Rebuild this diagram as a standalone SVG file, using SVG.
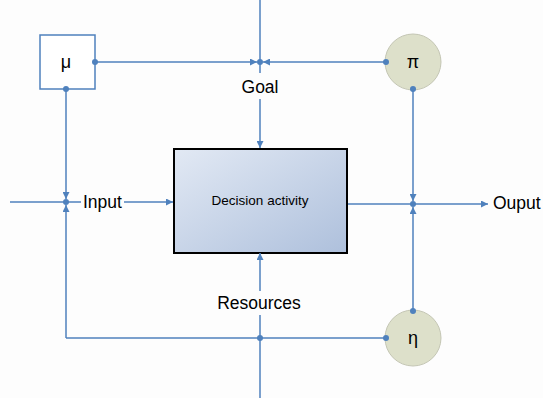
<svg xmlns="http://www.w3.org/2000/svg" width="543" height="398" viewBox="0 0 543 398">
  <style>
    .ln { fill: none; stroke: #4f81bd; stroke-width: 1.5; }
    .arr { marker-end: url(#ah); }
    .dot { fill: #4f81bd; }
    .lbl { font-family: "Liberation Sans", Arial, sans-serif; font-size: 17.5px; fill: #000; }
    .sym { font-family: "Liberation Sans", Arial, sans-serif; font-size: 18px; fill: #000; text-anchor: middle; }
    .circ { fill: #dde0ca; stroke: #c4c6b4; stroke-width: 1; }
  </style>
  <defs>
    <marker id="ah" viewBox="0 0 10 10" refX="10" refY="5" markerWidth="7" markerHeight="7" markerUnits="userSpaceOnUse" orient="auto">
      <path d="M0,0 L10,5 L0,10 z" fill="#4f81bd"/>
    </marker>
    <linearGradient id="boxfill" x1="0" y1="0" x2="1" y2="1">
      <stop offset="0" stop-color="#e2e9f4"/>
      <stop offset="1" stop-color="#aec0dc"/>
    </linearGradient>
  </defs>
  <rect width="543" height="398" fill="#fdfdfd"/>

  <g id="mu">
    <rect x="40" y="35" width="55" height="54" fill="#fff" stroke="#4f81bd" stroke-width="1.5"/>
    <text class="sym" x="66" y="68">μ</text>
  </g>

  <g id="pi">
    <circle class="circ" cx="413" cy="62" r="28"/>
    <text class="sym" x="413" y="68">π</text>
  </g>

  <g id="eta">
    <circle class="circ" cx="413" cy="338" r="28"/>
    <text class="sym" x="413" y="344">η</text>
  </g>

  <g id="decision">
    <rect x="174" y="149" width="173" height="104" fill="url(#boxfill)" stroke="#000" stroke-width="2"/>
    <text x="260" y="205" font-family="Liberation Sans, Arial, sans-serif" font-size="13.5" text-anchor="middle">Decision activity</text>
  </g>

  <g id="connectors">
    <!-- goal feed from top -->
    <path class="ln" d="M260,0 V62"/>
    <path class="ln arr" d="M95,62 H257"/>
    <path class="ln arr" d="M386,62 H263"/>
    <path class="ln" d="M260,62 V73"/>
    <path class="ln arr" d="M260,99 V148"/>
    <!-- input -->
    <path class="ln" d="M10,202 H66"/>
    <path class="ln" d="M66,202 H81"/>
    <path class="ln arr" d="M124,202 H173"/>
    <path class="ln arr" d="M66,89 V199"/>
    <path class="ln arr" d="M66,338 V205"/>
    <!-- bottom loop -->
    <path class="ln" d="M66,338 H386"/>
    <!-- resources -->
    <path class="ln" d="M260,398 V315"/>
    <path class="ln arr" d="M260,291 V253"/>
    <!-- output -->
    <path class="ln arr" d="M348,204 H488"/>
    <path class="ln arr" d="M413,89 V201"/>
    <path class="ln arr" d="M413,311 V207"/>
    <!-- junction dots -->
    <circle class="dot" cx="260" cy="62" r="3"/>
    <circle class="dot" cx="66" cy="202" r="3"/>
    <circle class="dot" cx="260" cy="338" r="3"/>
    <circle class="dot" cx="413" cy="204" r="3"/>
    <circle class="dot" cx="95" cy="62" r="3"/>
    <circle class="dot" cx="66" cy="89" r="3"/>
    <circle class="dot" cx="386" cy="62" r="3"/>
    <circle class="dot" cx="413" cy="89" r="3"/>
    <circle class="dot" cx="386" cy="338" r="3"/>
    <circle class="dot" cx="413" cy="311" r="3"/>
  </g>

  <g id="labels">
    <text class="lbl" x="260" y="93" text-anchor="middle">Goal</text>
    <text class="lbl" x="83" y="208">Input</text>
    <text class="lbl" x="259" y="309" text-anchor="middle">Resources</text>
    <text class="lbl" x="493" y="209">Ouput</text>
  </g>
</svg>
